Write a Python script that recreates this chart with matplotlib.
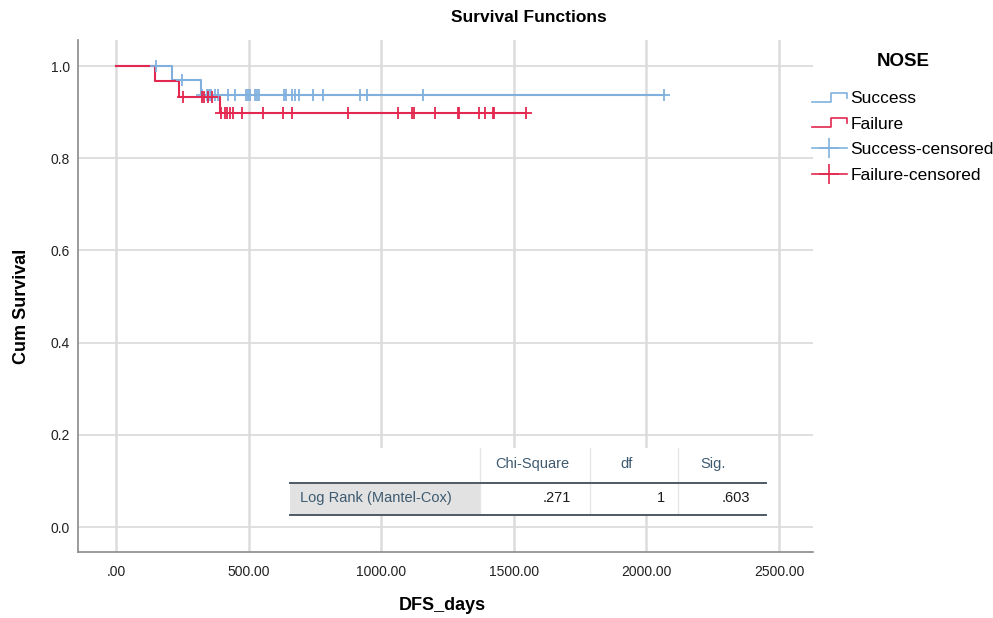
import numpy as np
import matplotlib
matplotlib.use("Agg")
import matplotlib.pyplot as plt
from matplotlib.lines import Line2D
from matplotlib.patches import Rectangle
from matplotlib.legend_handler import HandlerBase

plt.rcParams['font.family'] = ['Liberation Sans', 'DejaVu Sans']

# Kaplan-Meier step curves (time in days, cumulative survival)
success_t = [0, 212, 321, 2066]
success_s = [1.0, 0.970, 0.938, 0.938]
failure_t = [0, 147, 239, 392, 1546]
failure_s = [1.0, 0.967, 0.933, 0.897, 0.897]

# censored observations (days)
success_cens = [151, 250, 323, 342, 348, 354, 360, 373, 385, 423, 449, 489, 497,
                505, 524, 530, 540, 633, 641, 662, 675, 690, 742, 782, 920, 947,
                1156, 2066]
failure_cens = [254, 323, 332, 348, 361, 398, 411, 420, 430, 440, 474, 555, 630,
                662, 875, 1064, 1118, 1125, 1203, 1288, 1294, 1370, 1391, 1420,
                1427, 1546]

x_ticks = [0, 500, 1000, 1500, 2000, 2500]
y_ticks = [0.0, 0.2, 0.4, 0.6, 0.8, 1.0]

table_cols = ["Chi-Square", "df", "Sig."]
table_row = "Log Rank (Mantel-Cox)"
table_vals = [".271", "1", ".603"]

blue = '#80b1de'
red = '#e3284f'
W, H = 993, 618


def step_value(t, s, x):
    idx = np.searchsorted(t, x, side='right') - 1
    return np.array(s)[idx]


def fx(px):
    return px / W


def fy(py):
    return 1 - py / H


class StepHandler(HandlerBase):
    def create_artists(self, legend, orig_handle, xdescent, ydescent, width, height, fontsize, trans):
        x0 = -xdescent
        y0 = -ydescent
        xs = [x0, x0 + 0.55 * width, x0 + 0.55 * width, x0 + width, x0 + width]
        ys = [y0 + 0.1 * height, y0 + 0.1 * height, y0 + 0.85 * height, y0 + 0.85 * height, y0 + 0.45 * height]
        line = Line2D(xs, ys, color=orig_handle.get_color(), lw=1.2)
        line.set_transform(trans)
        return [line]


fig = plt.figure(figsize=(W / 100, H / 100), dpi=100)
ax = fig.add_axes([fx(78), fy(552), (813 - 78) / W, (552 - 40) / H])

ax.set_xlim(-143, 2628)
ax.set_ylim(-0.0542, 1.0564)
ax.set_xticks(x_ticks)
ax.set_yticks(y_ticks)
ax.set_xticklabels(['.00' if v == 0 else '%.2f' % v for v in x_ticks], fontsize=10, color='#222222')
ax.set_yticklabels(['%.1f' % v for v in y_ticks], fontsize=10, color='#222222')
ax.tick_params(length=0, pad=6)
ax.tick_params(axis='x', pad=9)
for v in x_ticks:
    ax.axvline(v, color='#dcdcdc', lw=1.8, zorder=0)
for v in y_ticks:
    ax.axhline(v, color='#dcdcdc', lw=1.3, zorder=0)
for sp in ['top', 'right']:
    ax.spines[sp].set_visible(False)
for sp in ['left', 'bottom']:
    ax.spines[sp].set_color('#8a8a8a')
    ax.spines[sp].set_linewidth(1.2)

l_succ, = ax.step(success_t, success_s, where='post', color=blue, lw=1.5, zorder=3)
l_fail, = ax.step(failure_t, failure_s, where='post', color=red, lw=1.5, zorder=4)
m_succ, = ax.plot(success_cens, step_value(success_t, success_s, success_cens), '+',
                  color=blue, ms=8, mew=1.3, zorder=5, linestyle='None')
m_fail, = ax.plot(failure_cens, step_value(failure_t, failure_s, failure_cens), '+',
                  color=red, ms=8, mew=1.3, zorder=5, linestyle='None')

h_sc = Line2D([], [], color=blue, lw=1.2, marker='+', ms=15, mew=1.2)
h_fc = Line2D([], [], color=red, lw=1.2, marker='+', ms=15, mew=1.2)
leg = fig.legend([l_succ, l_fail, h_sc, h_fc],
                 ['Success', 'Failure', 'Success-censored', 'Failure-censored'],
                 handler_map={l_succ: StepHandler(), l_fail: StepHandler()},
                 loc='upper left', bbox_to_anchor=(fx(812), fy(53)), frameon=False,
                 title='NOSE', title_fontproperties={'weight': 'bold', 'size': 13.5},
                 fontsize=12.5, handlelength=2.0, handletextpad=0.2, labelspacing=0.6,
                 borderaxespad=0, borderpad=0)
leg._legend_box.sep = 15

# titles
fig.text(fx(529), fy(18), 'Survival Functions', ha='center', va='center', fontsize=12.5, fontweight='bold')
fig.text(fx(442), fy(606), 'DFS_days', ha='center', va='center', fontsize=13, fontweight='bold')
fig.text(fx(22), fy(306), 'Cum Survival', ha='center', va='center', rotation=90, fontsize=13, fontweight='bold')

# log-rank table
tl, tr, ttop, tmid, tbot = 290, 766, 448, 483, 515
fig.add_artist(Rectangle((fx(tl), fy(tbot)), fx(tr) - fx(tl), fy(ttop) - fy(tbot),
                         transform=fig.transFigure, facecolor='white', edgecolor='none', zorder=2))
fig.add_artist(Rectangle((fx(tl), fy(tbot)), fx(480) - fx(tl), fy(tmid) - fy(tbot),
                         transform=fig.transFigure, facecolor='#e2e2e2', edgecolor='none', zorder=3))
for cx in [480, 590, 678]:
    fig.add_artist(Line2D([fx(cx), fx(cx)], [fy(ttop), fy(tbot)], transform=fig.transFigure,
                          color='#e6e6e6', lw=1, zorder=3))
for ly in [tmid, tbot]:
    fig.add_artist(Line2D([fx(tl), fx(tr)], [fy(ly), fy(ly)], transform=fig.transFigure,
                          color='#4d5a66', lw=1.4, zorder=4))
hdr_x = [532, 627, 713]
val_x = [571, 665, 750]
for name, hx in zip(table_cols, hdr_x):
    fig.text(fx(hx), fy(464), name, ha='center', va='center', fontsize=10.5, color='#3d5a70', zorder=5)
fig.text(fx(300), fy(498), table_row, ha='left', va='center', fontsize=10.5, color='#3d5a70', zorder=5)
for val, vx in zip(table_vals, val_x):
    fig.text(fx(vx), fy(498), val, ha='right', va='center', fontsize=10.5, color='#1a1a1a', zorder=5)

fig.savefig('out.png', dpi=100, facecolor='white')
